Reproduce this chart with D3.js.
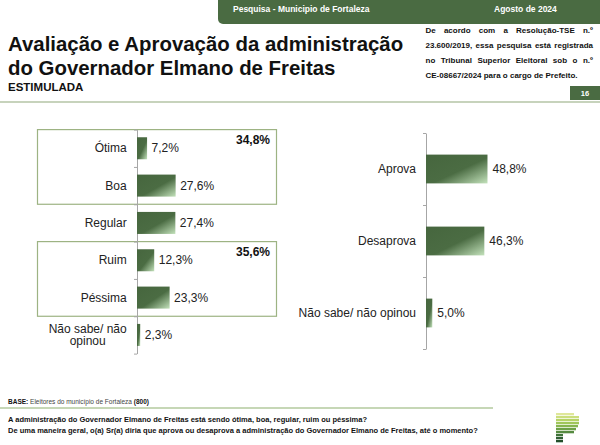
<!DOCTYPE html>
<html><head><meta charset="utf-8">
<script src="https://cdn.jsdelivr.net/npm/d3@7"></script>
<style>
body{margin:0;background:#fff}
svg{display:block}
text{font-family:"Liberation Sans",Arial,Helvetica,sans-serif}
</style></head>
<body><svg id="c" width="600" height="445"></svg>
<script>
// ---------- data ----------
const evalCategories = ["Ótima", "Boa", "Regular", "Ruim", "Péssima", "Não sabe/ não opinou"];
const evalValues = [7.2, 27.6, 27.4, 12.3, 23.3, 2.3];
const groupLabels = ["34,8%", "35,6%"];
const groupFrom = ["Ótima", "Ruim"];
const groupTo = ["Boa", "Péssima"];
const approvalCategories = ["Aprova", "Desaprova", "Não sabe/ não opinou"];
const approvalValues = [48.8, 46.3, 5.0];

const titleLines = ["Avaliação e Aprovação da administração", "do Governador Elmano de Freitas"];
const subtitle = "ESTIMULADA";
const bannerLeft = "Pesquisa - Municipio de Fortaleza";
const bannerRight = "Agosto de 2024";
const noteLines = ["De acordo com a Resolução-TSE n.º", "23.600/2019, essa pesquisa está registrada", "no Tribunal Superior Eleitoral sob o n.º", "CE-08667/2024 para o cargo de Prefeito."];
const pageNumber = "16";
const questions = ["A administração do Governador Elmano de Freitas está sendo ótima, boa, regular, ruim ou péssima?",
  "De uma maneira geral, o(a) Sr(a) diria que aprova ou desaprova a administração do Governador Elmano de Freitas, até o momento?"];

const fmt = v => v.toFixed(1).replace(".", ",") + "%";
const GREEN = "#4a6b42";
const svg = d3.select("#c");

// gradient for bars
const defs = svg.append("defs");
const grad = defs.append("linearGradient").attr("id", "barGrad")
  .attr("x1", 0).attr("y1", 0).attr("x2", 1).attr("y2", 1);
grad.append("stop").attr("offset", "0%").attr("stop-color", "#46663e");
grad.append("stop").attr("offset", "55%").attr("stop-color", "#4b6c43");
grad.append("stop").attr("offset", "100%").attr("stop-color", "#c3e2bb");

// ---------- header ----------
svg.append("rect").attr("x", 218).attr("y", -10).attr("width", 400).attr("height", 34).attr("rx", 5).attr("fill", GREEN);
svg.append("text").attr("x", 233).attr("y", 12).attr("font-size", 8.5).attr("font-weight", "bold").attr("fill", "#fff").text(bannerLeft);
svg.append("text").attr("x", 494).attr("y", 12).attr("font-size", 8.5).attr("font-weight", "bold").attr("fill", "#fff").text(bannerRight);

svg.selectAll("text.title").data(titleLines).join("text").attr("class", "title")
  .attr("x", 8).attr("y", (d, i) => 51 + i * 24).attr("font-size", 20.4).attr("font-weight", "bold").attr("fill", "#111").text(d => d);
svg.append("text").attr("x", 8).attr("y", 91).attr("font-size", 11.5).attr("font-weight", "bold").attr("fill", "#111").text(subtitle);

// justified note
const nx0 = 425.5, nx1 = 593;
noteLines.forEach((line, li) => {
  const words = line.split(" ");
  const g = svg.append("g");
  const y = 33 + li * 15;
  const ts = words.map(w => g.append("text").attr("y", y).attr("font-size", 8).attr("font-weight", "bold").attr("fill", "#111").text(w));
  const widths = ts.map(t => t.node().getComputedTextLength());
  const total = d3.sum(widths);
  const last = li === noteLines.length - 1;
  const gap = last ? 2.2 : (nx1 - nx0 - total) / (words.length - 1);
  let x = nx0;
  ts.forEach((t, i) => { t.attr("x", x); x += widths[i] + gap; });
});

svg.append("rect").attr("x", 570).attr("y", 86).attr("width", 30).attr("height", 14).attr("fill", GREEN);
svg.append("text").attr("x", 585).attr("y", 96).attr("text-anchor", "middle").attr("font-size", 7.5).attr("font-weight", "bold").attr("fill", "#fff").text(pageNumber);
svg.append("line").attr("x1", 0).attr("x2", 600).attr("y1", 102).attr("y2", 102).attr("stroke", "#b5c4a6").attr("stroke-width", 1.5);

// ---------- left chart ----------
const lx = d3.scaleLinear().domain([0, 100]).range([137, 277]);
const ly = d3.scaleBand().domain(evalCategories).range([129.6, 353.6]).paddingInner(0.41).paddingOuter(0.205);
const lstep = ly.step();
const lBoundary = d3.scaleLinear().domain([0, evalCategories.length]).range([129.6, 353.6]);
const bTop = c => ly(c) - ly.paddingInner() * lstep / 2;

// group boxes
groupLabels.forEach((lab, i) => {
  const y0 = bTop(groupFrom[i]), y1 = bTop(groupTo[i]) + lstep;
  svg.append("rect").attr("x", 37.5).attr("y", y0).attr("width", 239).attr("height", y1 - y0)
    .attr("fill", "none").attr("stroke", "#9db383").attr("stroke-width", 1.2);
  svg.append("text").attr("x", 270).attr("y", y0 + 14).attr("text-anchor", "end").attr("font-size", 12).attr("font-weight", "bold").attr("fill", "#111").text(lab);
});

svg.append("g").attr("transform", "translate(137,0)")
  .call(d3.axisLeft(lBoundary).tickValues(d3.range(evalCategories.length + 1)).tickFormat("").tickSize(3).tickSizeOuter(0))
  .call(g => { g.select(".domain").attr("stroke", "#a6a6a6"); g.selectAll(".tick line").attr("stroke", "#a6a6a6"); });

svg.selectAll("rect.lbar").data(evalValues).join("rect").attr("class", "lbar")
  .attr("x", lx(0)).attr("y", (d, i) => ly(evalCategories[i])).attr("width", d => lx(d) - lx(0)).attr("height", ly.bandwidth())
  .attr("fill", "url(#barGrad)");
svg.selectAll("text.lval").data(evalValues).join("text").attr("class", "lval")
  .attr("x", d => lx(d) + 4.5).attr("y", (d, i) => ly(evalCategories[i]) + ly.bandwidth() / 2 + 4.2)
  .attr("font-size", 12).attr("fill", "#222").text(d => fmt(d));

evalCategories.forEach(c => {
  const cy = ly(c) + ly.bandwidth() / 2;
  const t = svg.append("text").attr("font-size", 12).attr("fill", "#222").text(c);
  const w = t.node().getComputedTextLength();
  if (w > 90) {
    t.remove();
    const words = c.split(" ");
    const lines = [words.slice(0, -1).join(" "), words[words.length - 1]];
    const tmp = svg.append("text").attr("font-size", 12).text(lines[0]);
    const w0 = tmp.node().getComputedTextLength(); tmp.remove();
    const cx = 126.7 - w0 / 2;
    lines.forEach((ln, i) => svg.append("text").attr("x", cx).attr("y", cy - 2.2 + i * 12.5)
      .attr("text-anchor", "middle").attr("font-size", 12).attr("fill", "#222").text(ln));
  } else {
    t.attr("x", 126.7).attr("y", cy + 4.2).attr("text-anchor", "end");
  }
});

// ---------- right chart ----------
const rx = d3.scaleLinear().domain([0, 100]).range([426, 552]);
const ry = d3.scaleBand().domain(approvalCategories).range([133, 349]).paddingInner(0.6).paddingOuter(0.3);
const rBoundary = d3.scaleLinear().domain([0, approvalCategories.length]).range([133, 349]);

svg.append("g").attr("transform", "translate(426,0)")
  .call(d3.axisLeft(rBoundary).tickValues(d3.range(approvalCategories.length + 1)).tickFormat("").tickSize(3).tickSizeOuter(0))
  .call(g => { g.select(".domain").attr("stroke", "#a6a6a6"); g.selectAll(".tick line").attr("stroke", "#a6a6a6"); });

svg.selectAll("rect.rbar").data(approvalValues).join("rect").attr("class", "rbar")
  .attr("x", rx(0)).attr("y", (d, i) => ry(approvalCategories[i])).attr("width", d => rx(d) - rx(0)).attr("height", ry.bandwidth())
  .attr("fill", "url(#barGrad)");
svg.selectAll("text.rval").data(approvalValues).join("text").attr("class", "rval")
  .attr("x", d => rx(d) + 5).attr("y", (d, i) => ry(approvalCategories[i]) + ry.bandwidth() / 2 + 4.2)
  .attr("font-size", 12).attr("fill", "#222").text(d => fmt(d));
svg.selectAll("text.rcat").data(approvalCategories).join("text").attr("class", "rcat")
  .attr("x", 416).attr("y", d => ry(d) + ry.bandwidth() / 2 + 4.2).attr("text-anchor", "end")
  .attr("font-size", 12).attr("fill", "#222").text(d => d);

// ---------- footer ----------
const base = svg.append("text").attr("x", 8).attr("y", 403.5).attr("font-size", 6.5).attr("fill", "#444");
base.append("tspan").attr("font-weight", "bold").attr("fill", "#111").text("BASE:");
base.append("tspan").text(" Eleitores do município de Fortaleza ");
base.append("tspan").attr("font-weight", "bold").attr("fill", "#111").text("(800)");
svg.append("line").attr("x1", 0).attr("x2", 493).attr("y1", 408).attr("y2", 408).attr("stroke", "#8db06f").attr("stroke-width", 1.2);
svg.selectAll("text.q").data(questions).join("text").attr("class", "q")
  .attr("x", 8).attr("y", (d, i) => 422 + i * 10.5).attr("font-size", 7.5).attr("font-weight", "bold").attr("fill", "#111").text(d => d);

// logo
const logoW = [18, 23, 23, 23, 22, 20, 18, 7, 7, 7];
const logoC = ["#dfe79a", "#cbde7c", "#b6d366", "#a0c65a", "#86b44e", "#6da046", "#558a40", "#3f7239", "#305f33", "#234f2b"];
svg.selectAll("rect.logo").data(logoW).join("rect").attr("class", "logo")
  .attr("x", 556).attr("y", (d, i) => 413 + i * 3).attr("width", d => d).attr("height", 2.3).attr("fill", (d, i) => logoC[i]);
</script></body></html>
